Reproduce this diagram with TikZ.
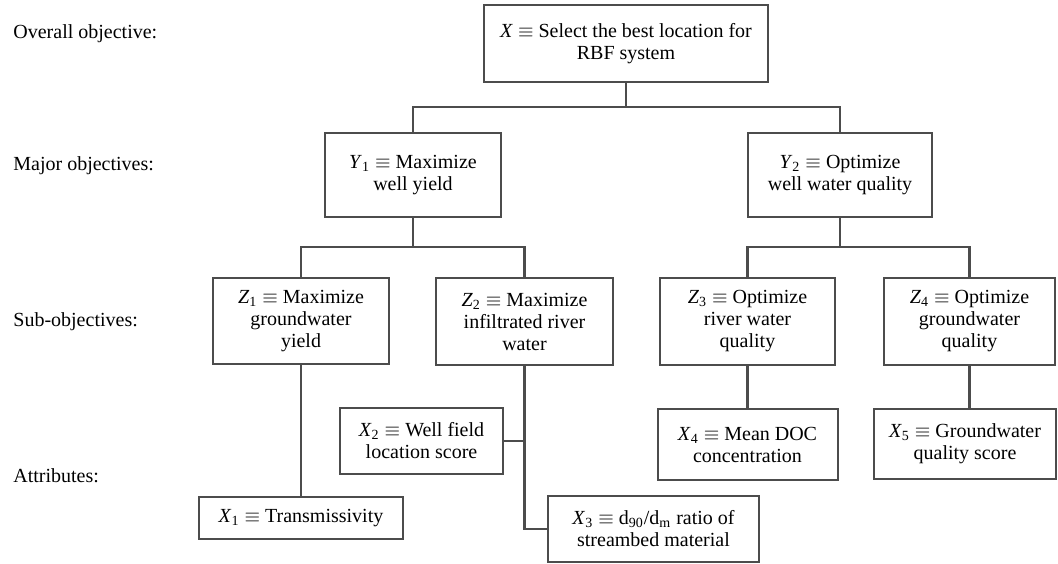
\documentclass[tikz,border=0pt]{standalone}
\usepackage{fontspec}
\setmainfont{Liberation Serif}
\usepackage{tikz}
\newcommand{\vsym}[2]{\textit{#1}\textsubscript{#2}}

\begin{document}
\begin{tikzpicture}[x = 0.5pt, y = -0.5pt,
        obj/.style = {draw = black!70, line width = 1pt, align = center, inner sep = 0pt, font = \fontsize{10}{11}\selectfont},
        lvl/.style = {anchor = west, inner sep = 0pt, font = \fontsize{10}{12}\selectfont},
        link/.style = {draw = black!70, line width = 1.2pt}]
    \useasboundingbox (0, 0) rectangle (1058, 563);
    \node[lvl] (lover) at (13, 34) {Overall objective:};
    \node[lvl] (lmajor) at (13, 166) {Major objectives:};
    \node[lvl] (lsub) at (13, 322) {Sub-objectives:};
    \node[lvl] (lattr) at (13, 476) {Attributes:};
    \node[obj, minimum width = 142pt, minimum height = 38.5pt] (top) at (626, 43.5) {\textit{X} $\equiv$ Select the best location for\\RBF system};
    \node[obj, minimum width = 88pt, minimum height = 42pt] (y1) at (413, 175) {\vsym{Y}{1} $\equiv$ Maximize\\well yield};
    \node[obj, minimum width = 92pt, minimum height = 42pt] (y2) at (840, 175) {\vsym{Y}{2} $\equiv$ Optimize\\well water quality};
    \node[obj, minimum width = 88pt, minimum height = 43pt] (z1) at (301, 321) {\vsym{Z}{1} $\equiv$ Maximize\\groundwater\\yield};
    \node[obj, minimum width = 88.5pt, minimum height = 43.5pt] (z2) at (524.5, 321.5) {\vsym{Z}{2} $\equiv$ Maximize\\infiltrated river\\water};
    \node[obj, minimum width = 87.5pt, minimum height = 43.5pt] (z3) at (747.5, 321.5) {\vsym{Z}{3} $\equiv$ Optimize\\river water\\quality};
    \node[obj, minimum width = 85.5pt, minimum height = 43.5pt] (z4) at (969.5, 321.5) {\vsym{Z}{4} $\equiv$ Optimize\\groundwater\\quality};
    \node[obj, minimum width = 102pt, minimum height = 21pt] (x1) at (301, 518) {\vsym{X}{1} $\equiv$ Transmissivity};
    \node[obj, minimum width = 81.5pt, minimum height = 33pt] (x2) at (421.5, 441) {\vsym{X}{2} $\equiv$ Well field\\location score};
    \node[obj, minimum width = 105.5pt, minimum height = 33pt] (x3) at (653.5, 529) {\vsym{X}{3} $\equiv$ d\textsubscript{90}/d\textsubscript{m} ratio of\\streambed material};
    \node[obj, minimum width = 90pt, minimum height = 35.5pt] (x4) at (747.5, 444.5) {\vsym{X}{4} $\equiv$ Mean DOC\\concentration};
    \node[obj, minimum width = 91pt, minimum height = 35pt] (x5) at (965, 444) {\vsym{X}{5} $\equiv$ Groundwater\\quality score};
    \coordinate (j1) at (626, 107);
    \coordinate (j2) at (413, 247);
    \coordinate (j3) at (840, 247);
    \draw[link] (top.south) -- (j1) -| (y1.north);
    \draw[link] (j1) -| (y2.north);
    \draw[link] (y1.south) -- (j2) -| (z1.north);
    \draw[link] (j2) -| (z2.north);
    \draw[link] (y2.south) -- (j3) -| (z3.north);
    \draw[link] (j3) -| (z4.north);
    \draw[link] (z1.south) -- (x1.north);
    \draw[link] (z2.south) |- (x3.west);
    \draw[link] (x2.east) -- (x2.east -| z2.south);
    \draw[link] (z3.south) -- (z3.south |- x4.north);
    \draw[link] (z4.south) -- (z4.south |- x5.north);
\end{tikzpicture}
\end{document}
